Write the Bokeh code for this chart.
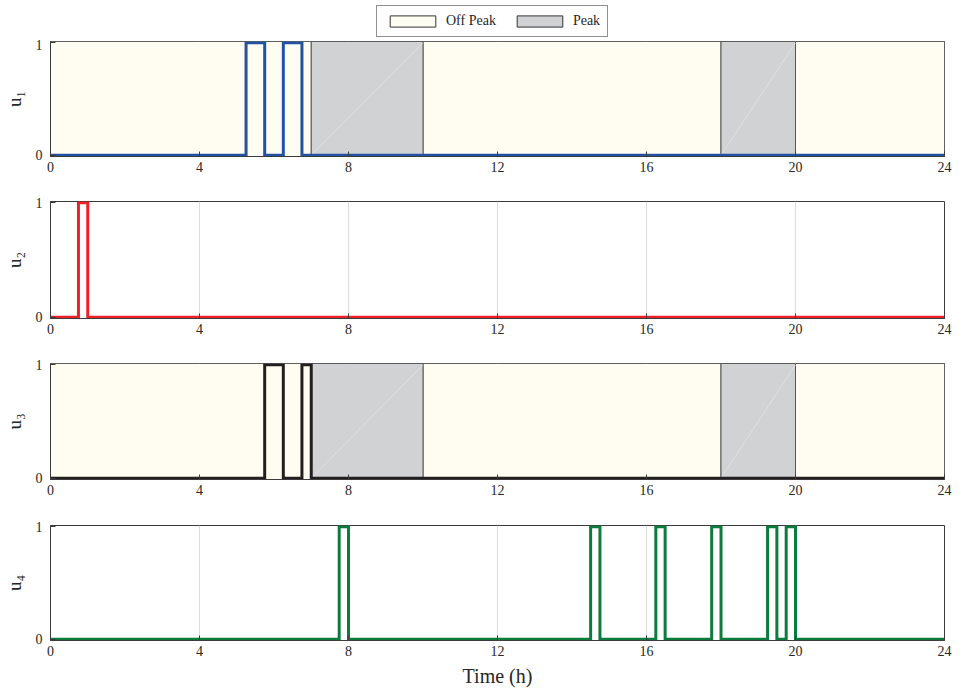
from bokeh.plotting import figure
from bokeh.layouts import column
from bokeh.models import Range1d, FixedTicker, Legend, LegendItem
from bokeh.embed import file_html
from bokeh.resources import INLINE

# ---------------- data ----------------
T_START, T_END = 0, 24
x_ticks = [0, 4, 8, 12, 16, 20, 24]
y_ticks = [0, 1]

# tariff periods (hours)
peak_periods = [(7, 10), (18, 20)]
offpeak_periods = [(0, 7), (10, 18), (20, 24)]

# ON intervals of each control signal (hours)
u1_on = [(5.25, 5.75), (6.25, 6.75)]
u2_on = [(0.75, 1.0)]
u3_on = [(5.75, 6.25), (6.75, 7.0)]
u4_on = [(7.75, 8.0), (14.5, 14.75), (16.25, 16.5), (17.75, 18.0),
         (19.25, 19.5), (19.75, 20.0)]

labels = ["u\u2081", "u\u2082", "u\u2083", "u\u2084"]
colors = ["#2152A4", "#EE2027", "#231F20", "#0B7C3D"]
show_tariff = [True, False, True, False]
legend_labels = ["Off Peak", "Peak"]

# ---------------- style ----------------
FONT = "Liberation Serif"
AX_COL = "#3C3C3C"
TXT_COL = "#262626"
OFF_COL = "#FFFDF1"
PEAK_COL = "#D1D2D4"
EDGE_COL = "#555555"
Y_LO, Y_HI = -0.012, 1.012


def step_xy(on):
    xs, ys = [T_START], [0]
    for a, b in on:
        xs += [a, a, b, b]
        ys += [0, 1, 1, 0]
    xs.append(T_END)
    ys.append(0)
    return xs, ys


def tariff_quads(p, bottom, top, edge):
    r_off = p.quad(left=[a for a, b in offpeak_periods],
                   right=[b for a, b in offpeak_periods],
                   bottom=bottom, top=top,
                   fill_color=OFF_COL, line_color=edge, line_width=1)
    r_peak = p.quad(left=[a for a, b in peak_periods],
                    right=[b for a, b in peak_periods],
                    bottom=bottom, top=top,
                    fill_color=PEAK_COL, line_color=edge, line_width=1)
    return r_off, r_peak


# ---------------- legend strip ----------------
# the strip's y-range lies above the patches, so only the legend shows
leg_fig = figure(width=952, height=39, output_backend="svg", toolbar_location=None,
                 x_range=Range1d(T_START, T_END), y_range=Range1d(2, 3),
                 x_axis_type=None, y_axis_type=None,
                 min_border_left=0, min_border_right=0,
                 min_border_top=0, min_border_bottom=0)
leg_fig.outline_line_color = None
leg_fig.grid.visible = False
leg_fig.border_fill_color = "white"
l_off, l_peak = tariff_quads(leg_fig, 0, 1, "#333333")
legend = Legend(items=[LegendItem(label=legend_labels[0], renderers=[l_off]),
                       LegendItem(label=legend_labels[1], renderers=[l_peak])],
                orientation="horizontal", location=(326, 2))
legend.label_text_font = FONT
legend.label_text_font_size = "14px"
legend.label_text_color = TXT_COL
legend.glyph_width = 57
legend.glyph_height = 14
legend.label_height = 14
legend.label_standoff = 5
legend.spacing = 15
legend.padding = 7
legend.margin = 0
legend.border_line_color = "#222222"
legend.border_line_width = 1
legend.background_fill_color = "white"
legend.background_fill_alpha = 1
leg_fig.add_layout(legend)

# ---------------- subplots ----------------
signals = [u1_on, u2_on, u3_on, u4_on]
heights = [146, 162, 161, 185]
tops = [2, 16, 16, 17]
bottoms = [29, 29, 29, 53]

figs = [leg_fig]
for i in range(4):
    p = figure(width=952, height=heights[i], output_backend="svg",
               toolbar_location=None,
               x_range=Range1d(T_START, T_END), y_range=Range1d(Y_LO, Y_HI),
               min_border_left=43, min_border_right=8,
               min_border_top=tops[i], min_border_bottom=bottoms[i])
    p.background_fill_color = "white"
    p.border_fill_color = "white"
    p.outline_line_color = AX_COL
    p.outline_line_width = 1

    p.xaxis.ticker = FixedTicker(ticks=x_ticks)
    p.yaxis.ticker = FixedTicker(ticks=y_ticks)
    for ax in (p.xaxis[0], p.yaxis[0]):
        ax.major_tick_in = 5
        ax.major_tick_out = 0
        ax.minor_tick_line_color = None
        ax.axis_line_color = AX_COL
        ax.major_tick_line_color = AX_COL
        ax.major_label_text_font = FONT
        ax.major_label_text_font_size = "14px"
        ax.major_label_text_color = TXT_COL
    p.xaxis.major_label_standoff = 5
    p.yaxis.major_label_standoff = 8
    p.yaxis.axis_label = labels[i]
    p.yaxis.axis_label_text_font = FONT
    p.yaxis.axis_label_text_font_size = "19px"
    p.yaxis.axis_label_text_font_style = "normal"
    p.yaxis.axis_label_text_color = TXT_COL
    p.yaxis.axis_label_standoff = 8

    p.xgrid.grid_line_color = "#DCDCDC"
    p.xgrid.grid_line_width = 1
    p.ygrid.grid_line_color = None

    if show_tariff[i]:
        tariff_quads(p, Y_LO, Y_HI, EDGE_COL)
        # faint diagonal seam of the shaded patches
        p.segment(x0=[a for a, b in peak_periods], y0=0,
                  x1=[b for a, b in peak_periods], y1=1,
                  line_color="#E2E2E2", line_width=0.8)

    xs, ys = step_xy(signals[i])
    p.line(xs, ys, line_color=colors[i], line_width=3, line_join="miter")

    if i == 3:
        p.xaxis.axis_label = "Time (h)"
        p.xaxis.axis_label_text_font = FONT
        p.xaxis.axis_label_text_font_size = "20px"
        p.xaxis.axis_label_text_font_style = "normal"
        p.xaxis.axis_label_text_color = TXT_COL
        p.xaxis.axis_label_standoff = 6
    figs.append(p)

layout = column(*figs, spacing=0)
open("out.html", "w").write(file_html(layout, INLINE))
